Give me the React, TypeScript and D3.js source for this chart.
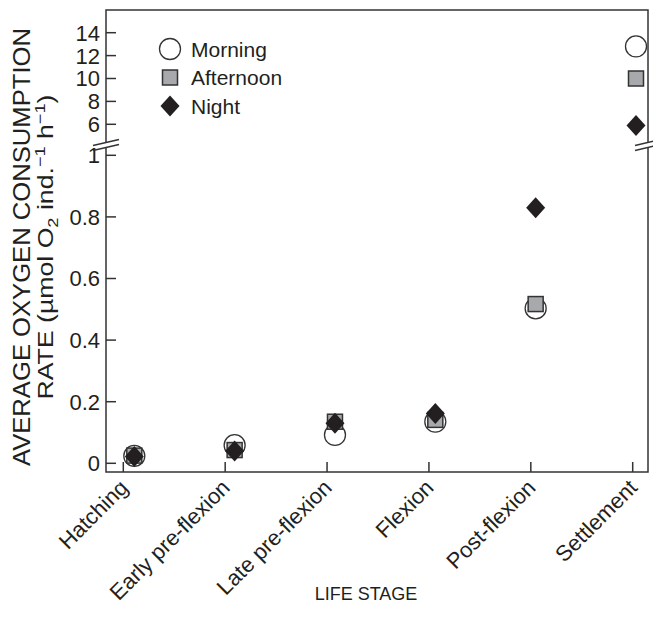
import { useEffect, useRef } from 'react'
import * as d3 from 'd3'

const stages = ['Hatching', 'Early pre-flexion', 'Late pre-flexion', 'Flexion', 'Post-flexion', 'Settlement']
const morning = [0.024, 0.059, 0.092, 0.135, 0.503, 12.8]
const afternoon = [0.025, 0.043, 0.135, 0.141, 0.517, 10.0]
const night = [0.022, 0.04, 0.13, 0.162, 0.83, 5.9]
const lowerTicks = [0, 0.2, 0.4, 0.6, 0.8, 1]
const upperTicks = [6, 8, 10, 12, 14]

const INK = '#231f20'
const FONT = 'Arial, "Liberation Sans", Helvetica, sans-serif'

export default function App() {
  const ref = useRef<SVGSVGElement>(null)

  useEffect(() => {
    if (!ref.current) return
    const width = 653
    const height = 622
    const frame = { left: 106, right: 648, top: 10, bottom: 472 }
    const breakY = 145

    const svg = d3.select(ref.current)
    svg.selectAll('*').remove()
    svg.attr('width', width).attr('height', height)

    const xTick = d3.scalePoint<string>().domain(stages).range([123.3, 632.7])
    const xMark = d3.scalePoint<string>().domain(stages).range([134.3, 636])
    const yLow = d3.scaleLinear().domain([0, 1]).range([463.3, 155.3])
    const yHigh = d3.scaleLinear().domain([6, 14]).range([124.3, 32.7])
    const yOf = (v: number) => (v > 1.2 ? yHigh(v) : yLow(v))

    // frame
    svg.append('rect')
      .attr('x', frame.left).attr('y', frame.top)
      .attr('width', frame.right - frame.left).attr('height', frame.bottom - frame.top)
      .attr('fill', 'none').attr('stroke', '#333').attr('stroke-width', 1.5)

    // y ticks (inward)
    const yt = [
      ...lowerTicks.map((v) => ({ y: yLow(v), label: String(v) })),
      ...upperTicks.map((v) => ({ y: yHigh(v), label: String(v) })),
    ]
    svg.selectAll('line.ytick').data(yt).join('line')
      .attr('class', 'ytick')
      .attr('x1', frame.left).attr('x2', frame.left + 10)
      .attr('y1', (d) => d.y).attr('y2', (d) => d.y)
      .attr('stroke', '#333').attr('stroke-width', 1.5)
    svg.selectAll('text.ylab').data(yt).join('text')
      .attr('class', 'ylab')
      .attr('x', frame.left - 6).attr('y', (d) => d.y).attr('dy', '0.36em')
      .attr('text-anchor', 'end')
      .attr('font-family', FONT).attr('font-size', 22).attr('fill', INK)
      .text((d) => d.label)

    // axis breaks
    const drawBreak = (cx: number) => {
      svg.append('rect').attr('x', cx - 2).attr('y', breakY - 2).attr('width', 4).attr('height', 4).attr('fill', '#fff')
      ;[-2.5, 2.5].forEach((off) => {
        svg.append('line')
          .attr('x1', cx - 13).attr('y1', breakY + off + 3)
          .attr('x2', cx + 13).attr('y2', breakY + off - 3)
          .attr('stroke', '#333').attr('stroke-width', 1.5)
      })
    }
    drawBreak(frame.left)
    drawBreak(frame.right)

    // x ticks (inward)
    svg.selectAll('line.xtick').data(stages).join('line')
      .attr('class', 'xtick')
      .attr('x1', (d) => xTick(d)!).attr('x2', (d) => xTick(d)!)
      .attr('y1', frame.bottom).attr('y2', frame.bottom - 10)
      .attr('stroke', '#333').attr('stroke-width', 1.5)
    svg.selectAll('text.xlab').data(stages).join('text')
      .attr('class', 'xlab')
      .attr('transform', (d) => `translate(${xTick(d)! + 6},${frame.bottom + 17}) rotate(-45)`)
      .attr('text-anchor', 'end')
      .attr('font-family', FONT).attr('font-size', 22).attr('fill', INK)
      .text((d) => d)

    svg.append('text')
      .attr('x', 366).attr('y', 600)
      .attr('text-anchor', 'middle')
      .attr('font-family', FONT).attr('font-size', 18).attr('fill', INK)
      .text('LIFE STAGE')

    // y title
    svg.append('text')
      .attr('transform', 'translate(30,247) rotate(-90)')
      .attr('text-anchor', 'middle')
      .attr('font-family', FONT).attr('font-size', 23).attr('fill', INK)
      .attr('textLength', 438).attr('lengthAdjust', 'spacingAndGlyphs')
      .text('AVERAGE OXYGEN CONSUMPTION')
    const t2 = svg.append('text')
      .attr('transform', 'translate(53,247) rotate(-90)')
      .attr('text-anchor', 'middle')
      .attr('font-family', FONT).attr('font-size', 22).attr('fill', INK)
      .attr('textLength', 305).attr('lengthAdjust', 'spacingAndGlyphs')
    t2.append('tspan').text('RATE (µmol O')
    t2.append('tspan').attr('font-size', 15).attr('dy', 5).text('2')
    t2.append('tspan').attr('dy', -5).text(' ind.')
    t2.append('tspan').attr('font-size', 15).attr('dy', -8).text('−1')
    t2.append('tspan').attr('dy', 8).text(' h')
    t2.append('tspan').attr('font-size', 15).attr('dy', -8).text('−1')
    t2.append('tspan').attr('dy', 8).text(')')

    // markers
    const circle = (g: d3.Selection<any, any, any, any>) =>
      g.append('circle').attr('r', 10.5).attr('fill', '#fff').attr('stroke', '#333').attr('stroke-width', 1.3)
    const square = (g: d3.Selection<any, any, any, any>) =>
      g.append('rect').attr('x', -7.5).attr('y', -7.5).attr('width', 15).attr('height', 15)
        .attr('fill', '#a7a9ac').attr('stroke', '#333').attr('stroke-width', 1.5)
    const diamond = (g: d3.Selection<any, any, any, any>) =>
      g.append('path').attr('d', 'M0,-10.5 L9.5,0 L0,10.5 L-9.5,0 Z').attr('fill', '#231f20')

    const series = [
      { name: 'Morning', values: morning, draw: circle },
      { name: 'Afternoon', values: afternoon, draw: square },
      { name: 'Night', values: night, draw: diamond },
    ]

    series.forEach((s) => {
      s.values.forEach((v, i) => {
        const g = svg.append('g').attr('transform', `translate(${xMark(stages[i])},${yOf(v)})`)
        s.draw(g)
      })
    })

    // legend
    const legendY = d3.scalePoint<string>().domain(series.map((s) => s.name)).range([49, 106])
    series.forEach((s) => {
      const g = svg.append('g').attr('transform', `translate(170,${legendY(s.name)})`)
      s.draw(g)
      g.append('text')
        .attr('x', 21).attr('dy', '0.36em')
        .attr('font-family', FONT).attr('font-size', 21).attr('fill', INK)
        .text(s.name)
    })
  }, [])

  return <svg ref={ref} style={{ position: 'absolute', left: 0, top: 0, display: 'block', background: '#fff' }} />
}
